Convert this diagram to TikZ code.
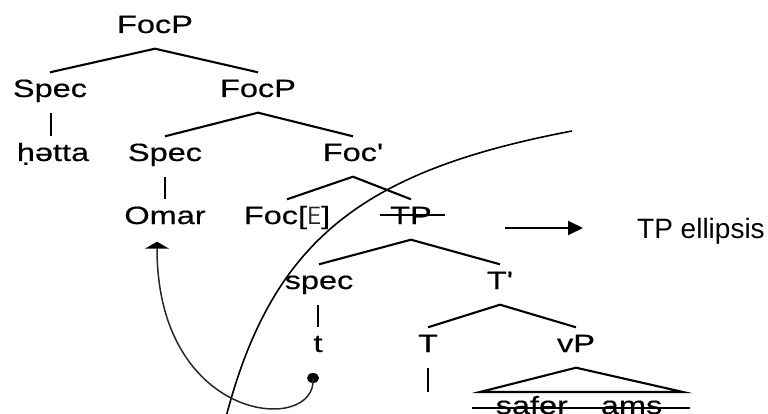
\documentclass[tikz,border=0pt]{standalone}
\usepackage{fontspec}
\setmainfont{Liberation Sans}
\newfontfamily\treefont[FakeStretch=1.3,FakeBold=0.4,Ligatures=TeXOff]{Liberation Sans}
\usetikzlibrary{arrows.meta,shapes.geometric}
\begin{document}
\begin{tikzpicture}[x=1pt,y=-1pt,
  lbl/.style={font=\treefont\fontsize{25}{25}\selectfont, inner sep=0pt,
    text height=24.5pt, text depth=15.5pt, anchor=base},
  branch/.style={line width=2.1pt},
  strike/.style={line width=1.8pt},
  movearc/.style={line width=1.5pt, draw=black!85},
  ellarc/.style={line width=1.6pt},
  bigarrow/.style={line width=2pt, -{Triangle[length=15pt,width=14pt]}}]
\useasboundingbox (0,0) rectangle (768,414);

% tree labels
\node[lbl] (focp)  at (155,33)  {FocP};
\node[lbl] (specA) at (50,97)   {Spec};
\node[lbl] (focpB) at (258,97)  {FocP};
\node[lbl] (hetta) at (53,161)  {ḥətta};
\node[lbl] (specB) at (165,161) {Spec};
\node[lbl] (focbar) at (353,161) {Foc'};
\node[lbl] (omar)  at (165,224) {Omar};
\node[lbl] (focE)  at (287,224) {Foc[{\sffamily\color{black!85}E}]};
\node[lbl] (tp)    at (411,224) {TP};
\node[lbl] (specC) at (319,289) {spec};
\node[lbl] (tbar)  at (500,289) {T'};
\node[lbl] (trc)   at (318,352) {t};
\node[lbl] (thead) at (428,352) {T};
\node[lbl] (vp)    at (576,352) {vP};
\node[lbl] (sa)    at (579,414) {safer\hspace{33pt}ams};

% branches
\draw[branch] (specA.north) -- (focp.south) -- (focpB.north);
\draw[branch] ([xshift=1pt]specA.south) -- ([xshift=1pt]specA.south |- hetta.north);
\draw[branch] (specB.north) -- (focpB.south) -- (focbar.north);
\draw[branch] (specB.south) -- (omar.north);
\draw[branch] (focE.north) -- (focbar.south) -- (tp.north);
\draw[branch] (specC.north) -- (tp.south) -- (tbar.north);
\draw[branch] (trc.north |- specC.south) -- (trc.north);
\draw[branch] (thead.north) -- (tbar.south) -- (vp.north);
\coordinate (tstub) at (428,392);
\draw[branch] (thead.south) -- (tstub);
\coordinate (triL) at (480,392);
\coordinate (triR) at (683,392);
\draw[branch, line join=miter] (vp.south) -- (triL) -- (triR) -- cycle;

% deleted material
\draw[strike] ([xshift=-10pt,yshift=9pt]tp.base west) -- ([xshift=13pt,yshift=9pt]tp.base east);
\draw[strike] ([xshift=-23pt,yshift=6pt]sa.base west) -- ([xshift=27pt,yshift=6pt]sa.base east);

% ellipsis site boundary
\draw[ellarc] (572,131) .. controls (362,171) and (270,240) .. (224,425);

% movement of the focused phrase
\node[ellipse, fill, inner sep=0pt, minimum width=12pt, minimum height=10pt] (trace) at (313,378) {};
\draw[movearc, -{Triangle[length=7pt,width=24pt,fill=black,color=black]}]
  (trace.center) .. controls (318,435) and (157,425) .. ([xshift=-8pt,yshift=-2pt]omar.south);

% annotation
\node[font=\fontsize{28}{28}\selectfont, inner sep=0pt, anchor=base west] (ell) at (637,238) {TP ellipsis};
\coordinate (arrS) at (505,228);
\draw[bigarrow, shorten >=54pt] (arrS) -- (arrS -| ell.west);
\end{tikzpicture}
\end{document}
